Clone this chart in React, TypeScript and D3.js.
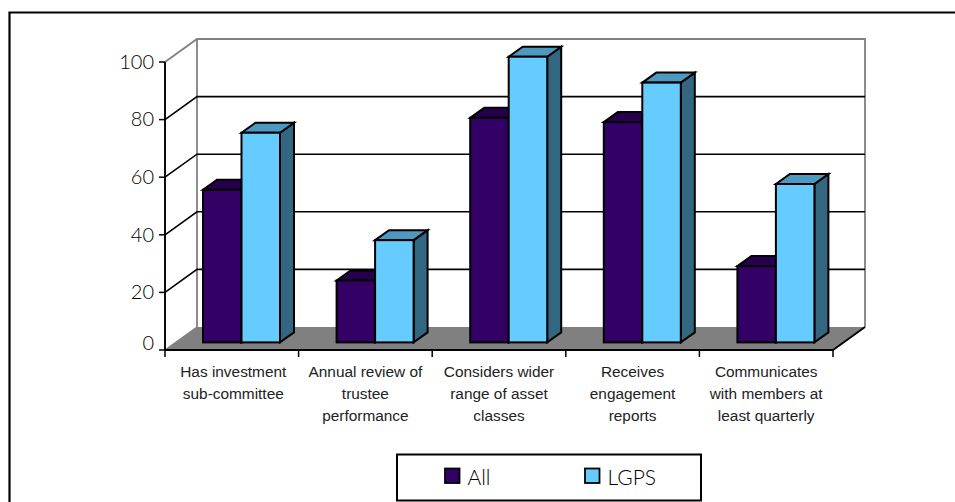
import React from "react";
import * as d3 from "d3";

// Survey results: share of respondents by governance practice
const categories = [
  ["Has investment", "sub-committee"],
  ["Annual review of", "trustee", "performance"],
  ["Considers wider", "range of asset", "classes"],
  ["Receives", "engagement", "reports"],
  ["Communicates", "with members at", "least quarterly"],
];
const seriesNames = ["All", "LGPS"];
const allValues = [53, 21.5, 78, 76.5, 26.5];
const lgpsValues = [72.8, 35.5, 99.2, 90.2, 55];
const yTicks = [0, 20, 40, 60, 80, 100];

const palette: Record<string, { front: string; top: string; side: string }> = {
  All: { front: "#330066", top: "#26004d", side: "#1a0033" },
  LGPS: { front: "#66ccff", top: "#4d99bf", side: "#336680" },
};

const labelFont = "'Liberation Sans', Arial, sans-serif";
const axisFont = "Lato, 'Noto Sans', sans-serif";

export default function App() {
  const x = d3.scaleBand<number>().domain(d3.range(categories.length)).range([165, 833]);
  const y = d3.scaleLinear().domain([0, 100]).range([350, 62]);
  const inner = d3.scaleBand<string>().domain(seriesNames).range([27.5, 104.5]);

  // Oblique projection of the chart box
  const wall = { dx: 32, dy: -23 };
  const barNear = { dx: 10.5, dy: -7.6 };
  const barDepth = { dx: 14, dy: -10 };
  const x0 = x.range()[0];
  const x1 = x.range()[1];
  const poly = (p: number[][]) => p.map((q) => q.join(",")).join(" ");

  const bars = categories.flatMap((_, i) =>
    seriesNames.map((s) => {
      const v = (s === "All" ? allValues : lgpsValues)[i];
      const l = x(i)! + inner(s)! + barNear.dx;
      const r = l + inner.bandwidth();
      const t = y(v) + barNear.dy;
      const b = y(0) + barNear.dy;
      return { key: `${i}-${s}`, s, l, r, t, b };
    })
  );

  return (
    <svg
      width={955}
      height={502}
      style={{ position: "absolute", left: 0, top: 0, background: "#fff" }}
    >
      <path d={`M9.5,502V12.5H955`} fill="none" stroke="#000" strokeWidth={2.2} />

      {/* Floor */}
      <polygon
        points={poly([
          [x0, y(0)],
          [x1, y(0)],
          [x1 + wall.dx, y(0) + wall.dy],
          [x0 + wall.dx, y(0) + wall.dy],
        ])}
        fill="#808080"
      />

      {/* Back wall outline */}
      <path
        d={`M${x0},${y(100)}L${x0 + wall.dx},${y(100) + wall.dy}H${x1 + wall.dx}V${y(0) + wall.dy}`}
        fill="none"
        stroke="#808080"
        strokeWidth={1.8}
      />
      <line
        x1={x0 + wall.dx}
        x2={x0 + wall.dx}
        y1={y(100) + wall.dy}
        y2={y(0) + wall.dy}
        stroke="#808080"
        strokeWidth={1.8}
      />

      {/* Gridlines, folded across the side wall */}
      {yTicks
        .filter((t) => t > 0 && t < 100)
        .map((t) => (
          <path
            key={t}
            d={`M${x0},${y(t)}L${x0 + wall.dx},${y(t) + wall.dy}H${x1 + wall.dx}`}
            fill="none"
            stroke="#000"
            strokeWidth={1.6}
          />
        ))}

      {/* Floor edges */}
      <path
        d={`M${x0},${y(0)}L${x0 + wall.dx},${y(0) + wall.dy}`}
        fill="none"
        stroke="#808080"
        strokeWidth={1.3}
      />
      <path
        d={`M${x0},${y(0)}H${x1}L${x1 + wall.dx},${y(0) + wall.dy}`}
        fill="none"
        stroke="#000"
        strokeWidth={1.8}
      />

      {/* Bars */}
      {bars.map((b) => {
        const c = palette[b.s];
        return (
          <g key={b.key} stroke="#000" strokeWidth={2} strokeLinejoin="miter">
            <polygon
              points={poly([
                [b.r, b.t],
                [b.r + barDepth.dx, b.t + barDepth.dy],
                [b.r + barDepth.dx, b.b + barDepth.dy],
                [b.r, b.b],
              ])}
              fill={c.side}
            />
            <polygon
              points={poly([
                [b.l, b.t],
                [b.l + barDepth.dx, b.t + barDepth.dy],
                [b.r + barDepth.dx, b.t + barDepth.dy],
                [b.r, b.t],
              ])}
              fill={c.top}
            />
            <rect x={b.l} y={b.t} width={b.r - b.l} height={b.b - b.t} fill={c.front} />
          </g>
        );
      })}

      {/* Value axis */}
      <line x1={x0} x2={x0} y1={y(100)} y2={y(0)} stroke="#000" strokeWidth={1.9} />
      {yTicks.map((t) => (
        <g key={t}>
          <line x1={x0 - 6} x2={x0} y1={y(t)} y2={y(t)} stroke="#000" strokeWidth={1.5} />
          <text
            x={x0 - 11}
            y={y(t) - (t === 0 ? 7 : 0.5)}
            dy="0.36em"
            textAnchor="end"
            fontFamily={axisFont}
            fontWeight={300}
            fontSize={20}
            fill="#000"
          >
            {t}
          </text>
        </g>
      ))}

      {/* Category axis */}
      {d3.range(categories.length + 1).map((i) => {
        const tx = x0 + i * x.step();
        return <line key={i} x1={tx} x2={tx} y1={y(0)} y2={y(0) + 7} stroke="#000" strokeWidth={1.5} />;
      })}
      {categories.map((lines, i) => (
        <text
          key={i}
          textAnchor="middle"
          fontFamily={labelFont}
          fontSize={15.4}
          fill="#222"
        >
          {lines.map((ln, j) => (
            <tspan key={j} x={x(i)! + x.bandwidth() / 2 + (i === 0 ? 1.5 : 0)} y={377 + j * 22}>
              {ln}
            </tspan>
          ))}
        </text>
      ))}

      {/* Legend */}
      <rect x={397} y={454.5} width={304} height={46} fill="#fff" stroke="#000" strokeWidth={2} />
      {seriesNames.map((s, i) => (
        <g key={s}>
          <rect
            x={445 + i * 140}
            y={468.5}
            width={14.5}
            height={14.5}
            fill={palette[s].front}
            stroke="#000"
            strokeWidth={1.8}
          />
          <text
            x={467.5 + i * 140}
            y={484.5}
            fontFamily={axisFont}
            fontWeight={300}
            fontSize={21}
            fill="#000"
          >
            {s}
          </text>
        </g>
      ))}
    </svg>
  );
}
